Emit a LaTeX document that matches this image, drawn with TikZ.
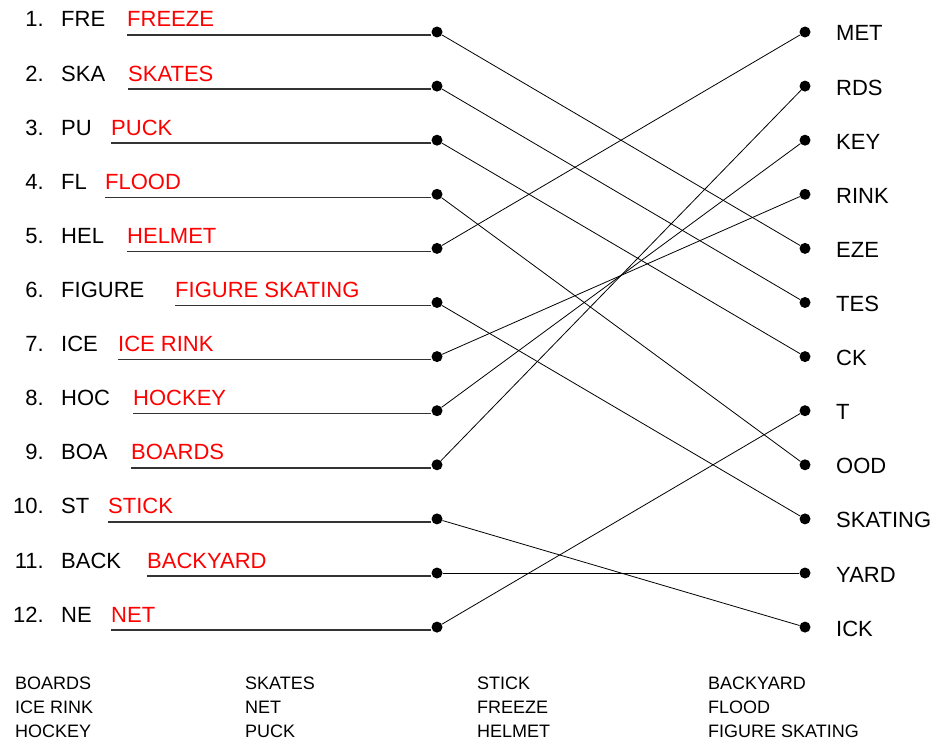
\documentclass[tikz,border=0pt]{standalone}
\usepackage{fontspec}
\setmainfont{Liberation Sans}

\begin{document}
\begin{tikzpicture}[x=1pt, y=-1pt, font=\fontsize{22}{26}\selectfont,
  dot/.style={circle, fill=black, inner sep=0pt, minimum size=11pt},
  clue/.style={anchor=base west, inner sep=0pt},
  answer/.style={clue, text=red},
  ending/.style={clue},
  bank/.style={clue, font=\fontsize{18}{22}\selectfont},
  underline/.style={line width=1.4pt, draw=black!80},
  link/.style={line width=0.8pt}]
  \useasboundingbox (0,0) rectangle (936,746);
  % left column: number, clue and answer on its line
  \foreach \hint/\word/\wx [count=\i] in {FRE/FREEZE/127, SKA/SKATES/128, PU/PUCK/111,
      FL/FLOOD/105, HEL/HELMET/127, FIGURE/FIGURE SKATING/175, ICE/ICE RINK/118,
      HOC/HOCKEY/133, BOA/BOARDS/131, ST/STICK/108, BACK/BACKYARD/147, NE/NET/111}
  {
    \node[dot] (l\i) at (437, {32+54.1*(\i-1)}) {};
    \node[anchor=base east, inner sep=0pt] (num\i) at (44, {27+54.1*(\i-1)}) {\i.};
    \node[clue] (hint\i) at (61, {27+54.1*(\i-1)}) {\hint};
    \node[answer] (ans\i) at (\wx, {27+54.1*(\i-1)}) {\word};
    \coordinate (u\i) at (\wx, {35+54.1*(\i-1)});
    \draw[underline] (u\i) -- (u\i -| l\i.west);
  }
  % right column: word endings
  \foreach \txt [count=\i] in {MET, RDS, KEY, RINK, EZE, TES, CK, T, OOD, SKATING, YARD, ICK}
  {
    \node[dot] (r\i) at (805, {32+54.1*(\i-1)}) {};
    \node[ending] (end\i) at (836, {41+54.1*(\i-1)}) {\txt};
  }
  % matches
  \foreach \a/\b in {1/5, 2/6, 3/7, 4/9, 5/1, 6/10, 7/4, 8/3, 9/2, 10/12, 11/11, 12/8}
    \draw[link] (l\a) -- (r\b);
  % word bank
  \foreach \w [count=\k] in {BOARDS, ICE RINK, HOCKEY}
    \node[bank] (bankA\k) at (15, {689+24.3*(\k-1)}) {\w};
  \foreach \w [count=\k] in {SKATES, NET, PUCK}
    \node[bank] (bankB\k) at (245, {689+24.3*(\k-1)}) {\w};
  \foreach \w [count=\k] in {STICK, FREEZE, HELMET}
    \node[bank] (bankC\k) at (477, {689+24.3*(\k-1)}) {\w};
  \foreach \w [count=\k] in {BACKYARD, FLOOD, FIGURE SKATING}
    \node[bank] (bankD\k) at (708, {689+24.3*(\k-1)}) {\w};
\end{tikzpicture}
\end{document}
